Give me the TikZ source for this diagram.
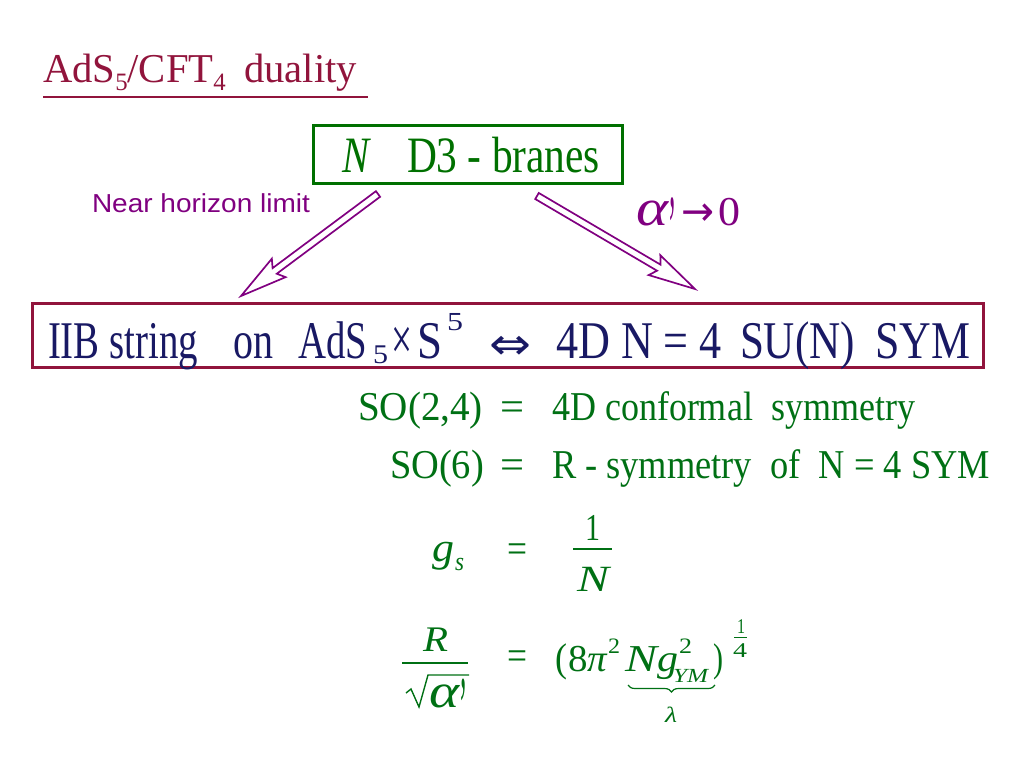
\documentclass[tikz,border=0pt]{standalone}
\usepackage{fontspec}
\setmainfont{Liberation Serif}
\newfontfamily\arialf{Liberation Sans}
\newfontfamily\djv{DejaVu Sans}
\usetikzlibrary{calc,decorations.pathreplacing}
\definecolor{maroonc}{RGB}{145,20,60}
\definecolor{boxgreen}{RGB}{0,112,0}
\definecolor{txtgreen}{RGB}{0,112,20}
\definecolor{navyc}{RGB}{25,25,100}
\definecolor{purplec}{RGB}{128,0,128}
\newcommand{\fs}[1]{\fontsize{#1}{#1}\selectfont}
\newcommand{\fitw}[2]{\resizebox{#1}{\height}{#2}}
\newcommand{\qs}{\symbol{"0027}}
\newcommand{\harrow}[2]{%
  \path (#2) coordinate (hE) ($(#2)!42pt!(#1)$) coordinate (hB) ($(#2)!47pt!(#1)$) coordinate (hBb);
  \draw[hollow] ($(#1)!3.5pt!90:(#2)$) -- ($(hB)!3.5pt!90:(hE)$) -- ($(hBb)!11.5pt!90:(hE)$) -- (hE)
    -- ($(hBb)!11.5pt!-90:(hE)$) -- ($(hB)!3.5pt!-90:(hE)$) -- ($(#1)!3.5pt!-90:(#2)$) -- cycle;}
\begin{document}
\begin{tikzpicture}[x=1pt,y=-1pt,
  txt/.style={anchor=base west,inner sep=0pt,outer sep=0pt},
  primet/.style={anchor=north west,inner sep=0pt,outer sep=0pt},
  hollow/.style={draw=purplec,line width=1.7pt,line join=miter},
  rule/.style={line width=1.5pt}]
\useasboundingbox (0,0) rectangle (1024,768);
% title
\node[txt,text=maroonc] (title) at (43,82) {\fitw{314pt}{\fs{41}AdS\raisebox{-8pt}{\fs{25}5}/CFT\raisebox{-8pt}{\fs{25}4}\hspace{0.45em}duality}};
\draw[maroonc,line width=1.5pt] (43,97) -- (368,97);
% D3 box
\node[draw=boxgreen,line width=3pt,minimum width=309pt,minimum height=58pt,inner sep=0pt] (d3) at (467.5,154) {};
\node[txt,text=boxgreen] (nn) at (342,172) {\fitw{27pt}{\fs{51}\itshape N}};
\node[txt,text=boxgreen] (d3t) at (407,172) {\fitw{193pt}{\fs{51}D3 - branes}};
% labels
\node[txt,text=purplec] (nhl) at (92,212) {\fitw{218pt}{\fs{26}\arialf Near horizon limit}};
\node[txt,text=purplec] (al1) at (636,225) {\fitw{32pt}{\fs{52}\itshape α}};
\node[primet,text=purplec] (al2) at (668,198) {\fitw{8pt}{\fs{90}\qs}};
\node[txt,text=purplec] (al3) at (681,225) {\fitw{33pt}{\fs{41}\djv →}};
\node[txt,text=purplec] (al4) at (718,225) {\fitw{22pt}{\fs{41}0}};
% main box
\node[draw=maroonc,line width=3pt,minimum width=951pt,minimum height=64pt,inner sep=0pt] (iib) at (508,335) {};
\begin{scope}[every node/.append style={text=navyc}]
\node[txt] (m1) at (48,358) {\fitw{150pt}{\fs{53}IIB string}};
\node[txt] (m2) at (233,358) {\fitw{40pt}{\fs{53}on}};
\node[txt] (m3) at (298,358) {\fitw{69pt}{\fs{53}AdS}};
\node[txt] (m4) at (373,363) {\fitw{15pt}{\fs{27}5}};
\node[txt] (m5) at (391,359) {\fitw{21pt}{\fs{60}×}};
\node[txt] (m6) at (417,358) {\fitw{25pt}{\fs{53}S}};
\node[txt] (m7) at (447,330) {\fitw{16pt}{\fs{26}5}};
\node[inner sep=0pt] (m8) at (510,348) {\fitw{42pt}{\fs{44}\djv ⇔}};
\node[txt] (m9) at (556,358) {\fitw{166pt}{\fs{53}4D N = 4}};
\node[txt] (m10) at (740,358) {\fitw{115pt}{\fs{53}SU(N)}};
\node[txt] (m11) at (875,358) {\fitw{95pt}{\fs{53}SYM}};
\end{scope}
% arrows
\coordinate (la1) at (378,194);
\coordinate (la2) at (241,296);
\coordinate (ra1) at (537,196);
\coordinate (ra2) at (695,289);
\harrow{la1}{la2}
\harrow{ra1}{ra2}
% equations
\begin{scope}[every node/.append style={text=txtgreen}]
\node[txt] (e1a) at (358,420) {\fitw{125pt}{\fs{41}SO(2,4)}};
\node[txt] (e1b) at (500,420) {\fitw{24pt}{\fs{41}=}};
\node[txt] (e1c) at (552,420) {\fitw{363pt}{\fs{41}4D conformal\ \ symmetry}};
\node[txt] (e2a) at (390,478) {\fitw{94pt}{\fs{41}SO(6)}};
\node[txt] (e2b) at (500,478) {\fitw{24pt}{\fs{41}=}};
\node[txt] (e2c) at (552,478) {\fitw{438pt}{\fs{41}R - symmetry\ \ of\ \ N = 4 SYM}};
% g_s
\node[txt] (g1) at (432,561) {\fitw{22pt}{\fs{41}\itshape g}};
\node[txt] (g2) at (455,570) {\fitw{9pt}{\fs{26}\itshape s}};
\node[inner sep=0pt] (g3) at (517.5,553) {\fitw{20pt}{\fs{41}=}};
\node[txt] (g4) at (585,540) {\fitw{15pt}{\fs{38}1}};
\node[txt] (g5) at (577,591) {\fitw{32pt}{\fs{37}\itshape N}};
\end{scope}
\draw[txtgreen,rule] (573,549) -- (612,549);
% R / sqrt alpha'
\begin{scope}[every node/.append style={text=txtgreen}]
\node[txt] (r1) at (423,651) {\fitw{25pt}{\fs{36}\itshape R}};
\node[txt] (r2) at (429,707) {\fitw{30pt}{\fs{48}\itshape α}};
\node[primet] (r2b) at (459,679) {\fitw{8pt}{\fs{85}\qs}};
\node[inner sep=0pt] (r3) at (517.5,660) {\fitw{20pt}{\fs{41}=}};
\node[txt] (p1) at (555,671) {\fitw{12pt}{\fs{40}(}};
\node[txt] (p2) at (568,671) {\fitw{39pt}{\fs{38}8\itshape π}};
\node[txt] (p3) at (608,653) {\fitw{12pt}{\fs{22}2}};
\node[txt] (p4) at (625,671) {\fitw{32pt}{\fs{38}\itshape N}};
\node[txt] (p5) at (657,671) {\fitw{21pt}{\fs{38}\itshape g}};
\node[txt] (p6) at (679,653) {\fitw{13pt}{\fs{22}2}};
\node[txt] (p7) at (673,682) {\fitw{35pt}{\fs{20}\itshape YM}};
\node[txt] (p8) at (713,671) {\fitw{10pt}{\fs{40})}};
\node[txt] (x1) at (737,633) {\fitw{8pt}{\fs{21}1}};
\node[txt] (x2) at (733,657) {\fitw{14pt}{\fs{21}4}};
\node[txt] (lam) at (665,722) {\fitw{12pt}{\fs{22}\itshape λ}};
\end{scope}
\draw[txtgreen,rule] (402,663) -- (468,663);
\draw[txtgreen,line width=1.4pt,line join=miter] (406,693) -- (411,689) -- (419,707) -- (428,675) -- (469,675);
\draw[txtgreen,line width=1pt] (734,637.5) -- (747,637.5);
\draw[txtgreen,line width=1.2pt,decorate,decoration={brace,mirror,amplitude=7pt}] (628,685) -- (715,685);
\end{tikzpicture}
\end{document}
